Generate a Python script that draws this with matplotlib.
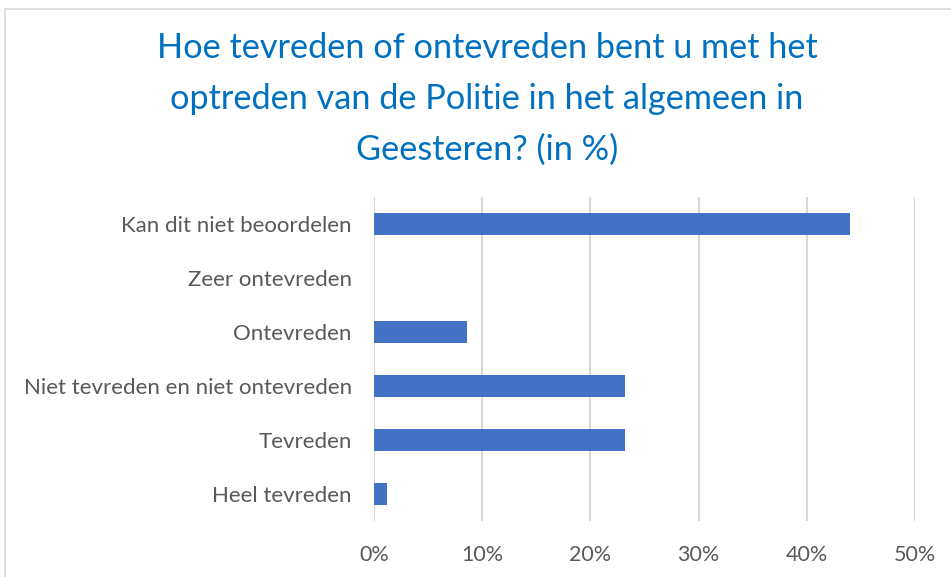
from matplotlib import pyplot as plt
from matplotlib.patches import Rectangle
import numpy as np

categories = ['Heel tevreden', 'Tevreden', 'Niet tevreden en niet ontevreden',
              'Ontevreden', 'Zeer ontevreden', 'Kan dit niet beoordelen']
values = [1.2, 23.2, 23.2, 8.6, 0.0, 44.0]
ticks = [0, 10, 20, 30, 40, 50]
tick_labels = ['0%', '10%', '20%', '30%', '40%', '50%']
title = 'Hoe tevreden of ontevreden bent u met het\noptreden van de Politie in het algemeen in\nGeesteren? (in %)'

plt.rcParams['font.family'] = ['Lato', 'DejaVu Sans']

fig = plt.figure(figsize=(9.51, 5.77), dpi=100)
fig.patches.append(Rectangle((5 / 951, -0.1), 1.1, 1.1 - 9 / 577, transform=fig.transFigure,
                             fill=False, edgecolor='#d9d9d9', linewidth=1.2))

ax = fig.add_axes([374 / 951, 1 - 521 / 577, 541 / 951, 324 / 577])
y = np.arange(len(categories))
ax.barh(y, values, height=0.4, color='#4472c4', zorder=3)
ax.set_ylim(-0.5, len(categories) - 0.5)
ax.set_xlim(0, 50)
ax.set_xticks(ticks)
ax.set_xticklabels(tick_labels)
ax.set_yticks(y)
ax.set_yticklabels(categories)
ax.grid(axis='x', color='#d9d9d9', linewidth=1.5, zorder=0)
for s in ax.spines.values():
    s.set_visible(False)
ax.tick_params(axis='both', length=0, labelsize=15.5, labelcolor='#595959')
ax.tick_params(axis='y', labelsize=16, pad=16)
ax.tick_params(axis='x', pad=17)

fig.text(487 / 951, 1 - 99 / 577, title, ha='center', va='center', fontsize=24.7,
         color='#0070c0', linespacing=1.72)

fig.savefig('out.png', dpi=100)
